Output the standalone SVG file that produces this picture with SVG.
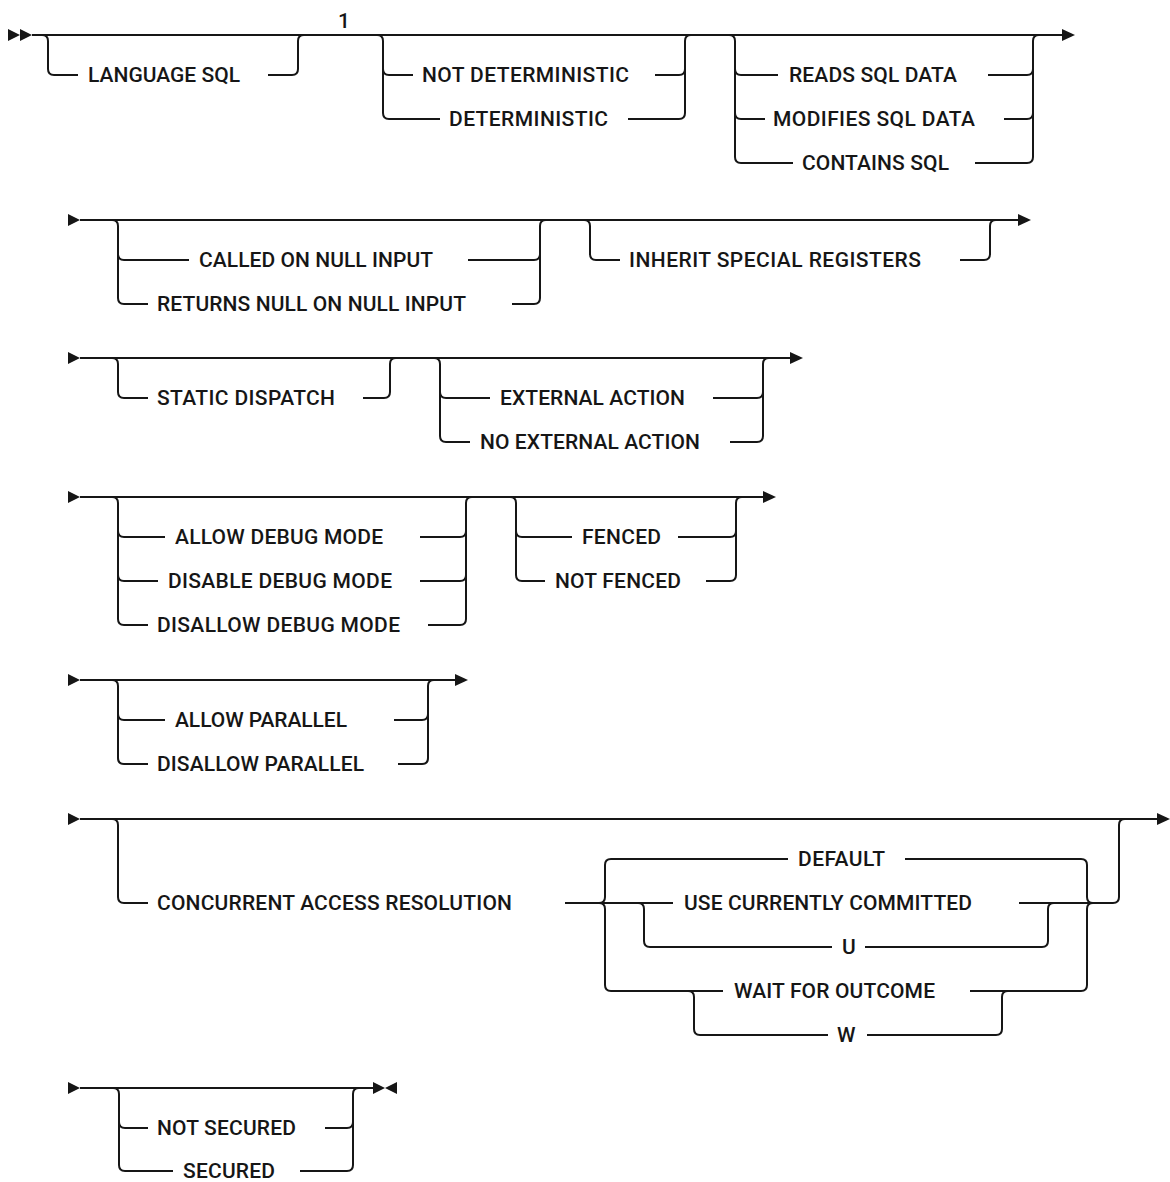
<svg xmlns="http://www.w3.org/2000/svg" width="1170" height="1182" viewBox="0 0 1170 1182">
<style>
.c{fill:none;stroke:#161616;stroke-width:2;stroke-linejoin:round}
.a{fill:#161616;stroke:none}
.t{font-family:Roboto,"Noto Sans","Liberation Sans",sans-serif;font-size:21px;font-weight:500;fill:#161616}
</style>
<rect width="1170" height="1182" fill="#ffffff"/>
<g id="connectors">
<!-- Row 1 -->
<path class="c" d="M32 35 L1063 35"/>
<path class="c" d="M42 35 Q48 35 48 41 L48 69 Q48 75 54 75 L78 75 M268 75 L292 75 Q298 75 298 69 L298 41 Q298 35 304 35"/>
<path class="c" d="M377 35 Q383 35 383 41 L383 113 Q383 119 389 119 L440 119 M383 69 Q383 75 389 75 L413 75 M628 119 L679 119 Q685 119 685 113 L685 41 Q685 35 691 35 M655 75 L679 75 Q685 75 685 69"/>
<path class="c" d="M729 35 Q735 35 735 41 L735 157 Q735 163 741 163 L793 163 M735 69 Q735 75 741 75 L778 75 M735 113 Q735 119 741 119 L765 119 M975 163 L1027 163 Q1033 163 1033 157 L1033 41 Q1033 35 1039 35 M988 75 L1027 75 Q1033 75 1033 69 M1004 119 L1027 119 Q1033 119 1033 113"/>
<polygon class="a" points="8,29 20,35 8,41"/>
<polygon class="a" points="20,29 32,35 20,41"/>
<polygon class="a" points="1062,29 1075,35 1062,41"/>
<!-- Row 2 -->
<path class="c" d="M80 220 L1019 220"/>
<path class="c" d="M112 220 Q118 220 118 226 L118 298 Q118 304 124 304 L148 304 M118 254 Q118 260 124 260 L189 260 M512 304 L534 304 Q540 304 540 298 L540 226 Q540 220 546 220 M468 260 L534 260 Q540 260 540 254"/>
<path class="c" d="M584 220 Q590 220 590 226 L590 254 Q590 260 596 260 L620 260 M960 260 L984 260 Q990 260 990 254 L990 226 Q990 220 996 220"/>
<polygon class="a" points="68,214 80,220 68,226"/>
<polygon class="a" points="1018,214 1031,220 1018,226"/>
<!-- Row 3 -->
<path class="c" d="M80 358 L791 358"/>
<path class="c" d="M112 358 Q118 358 118 364 L118 392 Q118 398 124 398 L148 398 M363 398 L384 398 Q390 398 390 392 L390 364 Q390 358 396 358"/>
<path class="c" d="M434 358 Q440 358 440 364 L440 436 Q440 442 446 442 L470 442 M440 392 Q440 398 446 398 L490 398 M730 442 L757 442 Q763 442 763 436 L763 364 Q763 358 769 358 M713 398 L757 398 Q763 398 763 392"/>
<polygon class="a" points="68,352 80,358 68,364"/>
<polygon class="a" points="790,352 803,358 790,364"/>
<!-- Row 4 -->
<path class="c" d="M80 497 L764 497"/>
<path class="c" d="M112 497 Q118 497 118 503 L118 619 Q118 625 124 625 L148 625 M118 531 Q118 537 124 537 L165 537 M118 575 Q118 581 124 581 L158 581 M428 625 L460 625 Q466 625 466 619 L466 503 Q466 497 472 497 M420 537 L460 537 Q466 537 466 531 M420 581 L460 581 Q466 581 466 575"/>
<path class="c" d="M510 497 Q516 497 516 503 L516 575 Q516 581 522 581 L545 581 M516 531 Q516 537 522 537 L572 537 M706 581 L730 581 Q736 581 736 575 L736 503 Q736 497 742 497 M678 537 L730 537 Q736 537 736 531"/>
<polygon class="a" points="68,491 80,497 68,503"/>
<polygon class="a" points="763,491 776,497 763,503"/>
<!-- Row 5 -->
<path class="c" d="M80 680 L456 680"/>
<path class="c" d="M112 680 Q118 680 118 686 L118 758 Q118 764 124 764 L148 764 M118 714 Q118 720 124 720 L165 720 M398 764 L422 764 Q428 764 428 758 L428 686 Q428 680 434 680 M394 720 L422 720 Q428 720 428 714"/>
<polygon class="a" points="68,674 80,680 68,686"/>
<polygon class="a" points="455,674 468,680 455,686"/>
<!-- Row 6 -->
<path class="c" d="M80 819 L1158 819"/>
<path class="c" d="M112 819 Q118 819 118 825 L118 897 Q118 903 124 903 L148 903"/>
<path class="c" d="M565 903 L673 903"/>
<path class="c" d="M599 903 Q605 903 605 897 L605 865 Q605 859 611 859 L788 859 M599 903 Q605 903 605 909 L605 985 Q605 991 611 991 L723 991"/>
<path class="c" d="M638 903 Q644 903 644 909 L644 941 Q644 947 650 947 L832 947 M865 947 L1042 947 Q1048 947 1048 941 L1048 909 Q1048 903 1054 903"/>
<path class="c" d="M1019 903 L1113 903 Q1119 903 1119 897 L1119 825 Q1119 819 1125 819"/>
<path class="c" d="M905 859 L1081 859 Q1087 859 1087 865 L1087 897 Q1087 903 1093 903 M970 991 L1081 991 Q1087 991 1087 985 L1087 909 Q1087 903 1093 903"/>
<path class="c" d="M688 991 Q694 991 694 997 L694 1029 Q694 1035 700 1035 L828 1035 M867 1035 L996 1035 Q1002 1035 1002 1029 L1002 997 Q1002 991 1008 991"/>
<polygon class="a" points="68,813 80,819 68,825"/>
<polygon class="a" points="1157,813 1170,819 1157,825"/>
<!-- Row 7 -->
<path class="c" d="M80 1088 L374 1088"/>
<path class="c" d="M113 1088 Q119 1088 119 1094 L119 1165 Q119 1171 125 1171 L173 1171 M119 1122 Q119 1128 125 1128 L148 1128 M300 1171 L347 1171 Q353 1171 353 1165 L353 1094 Q353 1088 359 1088 M325 1128 L347 1128 Q353 1128 353 1122"/>
<polygon class="a" points="68,1082 80,1088 68,1094"/>
<polygon class="a" points="373,1082 385,1088 373,1094"/>
<polygon class="a" points="397,1082 385,1088 397,1094"/>
</g>
<g id="note-1"><text class="t" x="344" y="28" text-anchor="middle" font-size="18">1</text></g>
<g id="language-sql"><text class="t" x="88" y="82" textLength="152">LANGUAGE SQL</text></g>
<g id="not-deterministic"><text class="t" x="422" y="82" textLength="207">NOT DETERMINISTIC</text></g>
<g id="deterministic"><text class="t" x="449" y="126" textLength="159">DETERMINISTIC</text></g>
<g id="reads-sql-data"><text class="t" x="789" y="82" textLength="168">READS SQL DATA</text></g>
<g id="modifies-sql-data"><text class="t" x="773" y="126" textLength="202">MODIFIES SQL DATA</text></g>
<g id="contains-sql"><text class="t" x="802" y="170" textLength="147">CONTAINS SQL</text></g>
<g id="called-on-null-input"><text class="t" x="199" y="267" textLength="234">CALLED ON NULL INPUT</text></g>
<g id="returns-null-on-null-input"><text class="t" x="157" y="311" textLength="309">RETURNS NULL ON NULL INPUT</text></g>
<g id="inherit-special-registers"><text class="t" x="629" y="267" textLength="292">INHERIT SPECIAL REGISTERS</text></g>
<g id="static-dispatch"><text class="t" x="157" y="405" textLength="178">STATIC DISPATCH</text></g>
<g id="external-action"><text class="t" x="500" y="405" textLength="185">EXTERNAL ACTION</text></g>
<g id="no-external-action"><text class="t" x="480" y="449" textLength="220">NO EXTERNAL ACTION</text></g>
<g id="allow-debug-mode"><text class="t" x="175" y="544" textLength="208">ALLOW DEBUG MODE</text></g>
<g id="disable-debug-mode"><text class="t" x="168" y="588" textLength="224">DISABLE DEBUG MODE</text></g>
<g id="disallow-debug-mode"><text class="t" x="157" y="632" textLength="243">DISALLOW DEBUG MODE</text></g>
<g id="fenced"><text class="t" x="582" y="544" textLength="79">FENCED</text></g>
<g id="not-fenced"><text class="t" x="555" y="588" textLength="126">NOT FENCED</text></g>
<g id="allow-parallel"><text class="t" x="175" y="727" textLength="172">ALLOW PARALLEL</text></g>
<g id="disallow-parallel"><text class="t" x="157" y="771" textLength="207">DISALLOW PARALLEL</text></g>
<g id="concurrent-access-resolution"><text class="t" x="157" y="910" textLength="355">CONCURRENT ACCESS RESOLUTION</text></g>
<g id="default"><text class="t" x="798" y="866" textLength="87">DEFAULT</text></g>
<g id="use-currently-committed"><text class="t" x="684" y="910" textLength="288">USE CURRENTLY COMMITTED</text></g>
<g id="u"><text class="t" x="842" y="954" textLength="12">U</text></g>
<g id="wait-for-outcome"><text class="t" x="734" y="998" textLength="201">WAIT FOR OUTCOME</text></g>
<g id="w"><text class="t" x="837" y="1042" textLength="19">W</text></g>
<g id="not-secured"><text class="t" x="157" y="1135" textLength="139">NOT SECURED</text></g>
<g id="secured"><text class="t" x="183" y="1178" textLength="92">SECURED</text></g>
</svg>
